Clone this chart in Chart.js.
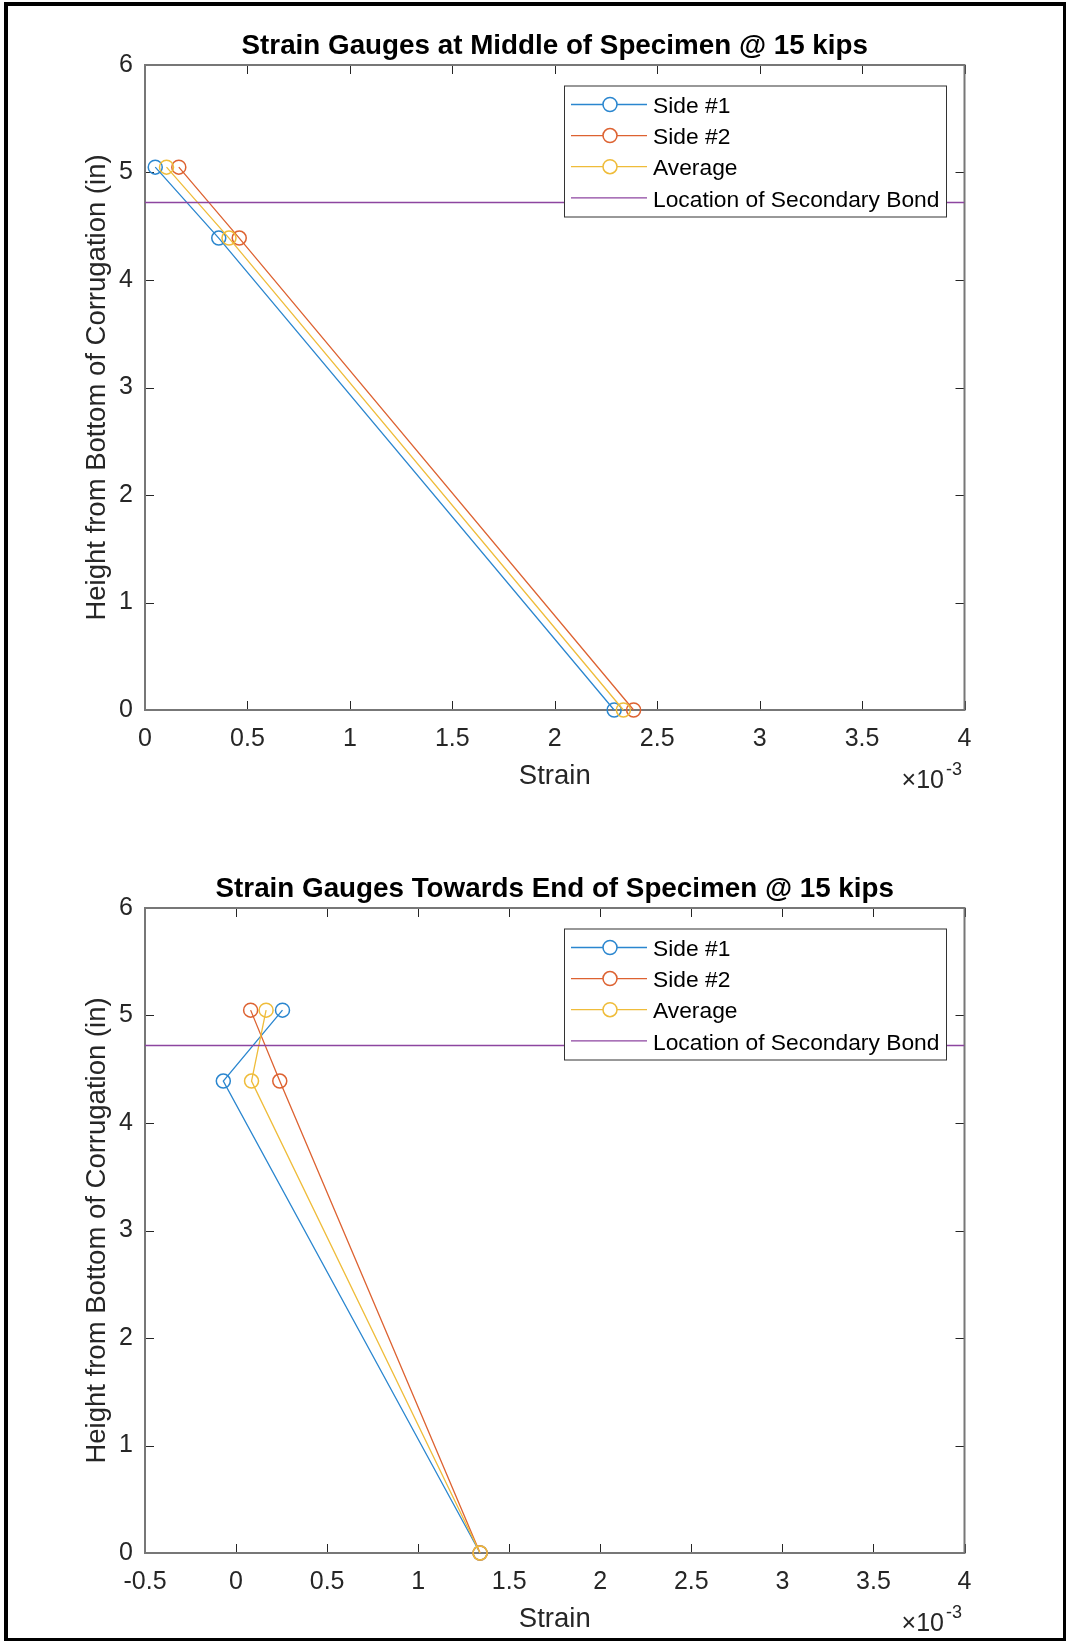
<!DOCTYPE html>
<html>
<head>
<meta charset="utf-8">
<script src="https://cdn.jsdelivr.net/npm/chart.js@4.4.0/dist/chart.umd.min.js"></script>
<style>
  html, body { margin: 0; padding: 0; background: #fff; }
  body { width: 1066px; height: 1641px; position: relative; overflow: hidden; }
  .plot { position: absolute; left: 0; width: 1066px; height: 798px; }
  #frame { position: absolute; left: 4px; top: 2px; width: 1062px; height: 1639px; box-sizing: border-box;
           border: solid #000; border-width: 4px 3px 3px 4px; pointer-events: none; }
</style>
</head>
<body>
<div class="plot" style="top:0"><canvas id="midChart" width="1066" height="798"></canvas></div>
<div class="plot" style="top:843px"><canvas id="endChart" width="1066" height="798"></canvas></div>
<div id="frame"></div>
<script>
// gauge heights (in) and strain readings (x 10^-3)
const gaugeHeights = [5.05, 4.39, 0];
const bondHeight = 4.72;

const midSide1   = [0.05, 0.36, 2.29];
const midSide2   = [0.165, 0.46, 2.385];
const midAverage = [0.105, 0.41, 2.335];

const endSide1   = [0.255, -0.07, 1.34];
const endSide2   = [0.08, 0.24, 1.34];
const endAverage = [0.165, 0.085, 1.34];

const midTicksX = [0, 0.5, 1, 1.5, 2, 2.5, 3, 3.5, 4];
const endTicksX = [-0.5, 0, 0.5, 1, 1.5, 2, 2.5, 3, 3.5, 4];
const ticksY = [0, 1, 2, 3, 4, 5, 6];

const FONT = '"Liberation Sans", Arial, sans-serif';
const INK = '#262626';
const BLUE = '#2a86cf', ORANGE = '#dd6231', YELLOW = '#efbc3a', PURPLE = '#8d45a0';

const decor = {
  id: 'decor',
  beforeDatasetsDraw(chart) {
    const { ctx, chartArea: a, scales: { x, y } } = chart;
    ctx.save();
    ctx.strokeStyle = INK;
    ctx.lineWidth = 1;
    ctx.beginPath();
    x.ticks.forEach(t => {
      const px = Math.round(x.getPixelForValue(t.value)) + 0.5;
      ctx.moveTo(px, a.bottom); ctx.lineTo(px, a.bottom - 9);
      ctx.moveTo(px, a.top); ctx.lineTo(px, a.top + 9);
    });
    y.ticks.forEach(t => {
      const py = Math.round(y.getPixelForValue(t.value)) + 0.5;
      ctx.moveTo(a.left, py); ctx.lineTo(a.left + 9, py);
      ctx.moveTo(a.right, py); ctx.lineTo(a.right - 9, py);
    });
    ctx.stroke();
    ctx.strokeStyle = '#777';
    ctx.lineWidth = 2;
    ctx.strokeRect(a.left, a.top, a.right - a.left, a.bottom - a.top);
    ctx.restore();
  },
  afterDatasetsDraw(chart, args, opts) {
    const { ctx, chartArea: a } = chart;
    ctx.save();

    // title
    ctx.fillStyle = '#000';
    ctx.font = 'bold 27.8px ' + FONT;
    ctx.textAlign = 'center';
    ctx.textBaseline = 'alphabetic';
    ctx.fillText(opts.title, (a.left + a.right) / 2, a.top - 11);

    // x10^-3 multiplier
    ctx.fillStyle = INK;
    ctx.textAlign = 'right';
    ctx.font = '25px ' + FONT;
    ctx.fillText('\u00d710', 944, a.bottom + 78);
    ctx.textAlign = 'left';
    ctx.font = '18px ' + FONT;
    ctx.fillText('-3', 946, a.bottom + 65);

    // legend
    const bx = 564, by = a.top + 20.5, bw = 382, bh = 131;
    ctx.fillStyle = '#fff';
    ctx.fillRect(bx, by, bw, bh);
    ctx.strokeStyle = '#333';
    ctx.lineWidth = 1;
    ctx.strokeRect(bx + 0.5, by + 0.5, bw, bh);
    ctx.font = '22.8px ' + FONT;
    ctx.textBaseline = 'middle';
    chart.data.datasets.forEach((ds, i) => {
      const ry = by + 19 + i * 31.1;
      ctx.strokeStyle = ds.borderColor;
      ctx.lineWidth = 1.3;
      ctx.beginPath();
      ctx.moveTo(571, ry); ctx.lineTo(647, ry);
      ctx.stroke();
      if (ds.pointRadius > 0) {
        ctx.fillStyle = '#fff';
        ctx.beginPath();
        ctx.arc(610, ry, 7, 0, Math.PI * 2);
        ctx.fill();
        ctx.lineWidth = 1.5;
        ctx.stroke();
      }
      ctx.fillStyle = '#000';
      ctx.fillText(ds.label, 653, ry + 2.5);
    });
    ctx.restore();
  }
};

function series(label, xs, color, order) {
  return {
    label: label,
    data: xs.map((v, i) => ({ x: v, y: gaugeHeights[i] })),
    borderColor: color,
    borderWidth: 1.3,
    pointRadius: 7,
    pointBorderWidth: 1.5,
    pointBackgroundColor: 'rgba(0,0,0,0)',
    pointBorderColor: color,
    showLine: true,
    tension: 0,
    clip: false,
    order: order
  };
}

function makeChart(id, title, ticksX, side1, side2, avg) {
  const xMin = ticksX[0], xMax = ticksX[ticksX.length - 1];
  new Chart(document.getElementById(id), {
    type: 'line',
    data: {
      datasets: [
        series('Side #1', side1, BLUE, 4),
        series('Side #2', side2, ORANGE, 3),
        series('Average', avg, YELLOW, 2),
        {
          label: 'Location of Secondary Bond',
          data: [{ x: xMin, y: bondHeight }, { x: xMax, y: bondHeight }],
          borderColor: PURPLE,
          borderWidth: 1.5,
          pointRadius: 0,
          order: 1
        }
      ]
    },
    options: {
      responsive: false,
      animation: false,
      events: [],
      layout: { padding: { top: 65, right: 101.5, bottom: 0, left: 0 } },
      plugins: {
        legend: { display: false },
        tooltip: { enabled: false },
        decor: { title: title }
      },
      scales: {
        x: {
          type: 'linear',
          min: xMin,
          max: xMax,
          afterBuildTicks: s => { s.ticks = ticksX.map(v => ({ value: v })); },
          afterFit: s => { s.height = 88; s.paddingLeft = 0; s.paddingRight = 0; },
          grid: { display: false, drawTicks: false },
          border: { display: false },
          ticks: { autoSkip: false, maxRotation: 0, padding: 14, color: INK,
                   font: { family: FONT, size: 25 }, callback: v => String(v) },
          title: { display: true, text: 'Strain', color: INK,
                   font: { family: FONT, size: 27.5 }, padding: { top: 0, bottom: 5 } }
        },
        y: {
          type: 'linear',
          min: 0,
          max: 6,
          afterBuildTicks: s => { s.ticks = ticksY.map(v => ({ value: v })); },
          afterFit: s => { s.width = 145; s.paddingTop = 0; s.paddingBottom = 0; },
          grid: { display: false, drawTicks: false },
          border: { display: false },
          ticks: { padding: 12, color: INK, font: { family: FONT, size: 25 }, callback: v => String(v) },
          title: { display: true, text: 'Height from Bottom of Corrugation (in)', color: INK,
                   font: { family: FONT, size: 27.5 }, padding: { top: 80.5, bottom: 0 } }
        }
      }
    },
    plugins: [decor]
  });
}

makeChart('midChart', 'Strain Gauges at Middle of Specimen @ 15 kips', midTicksX, midSide1, midSide2, midAverage);
makeChart('endChart', 'Strain Gauges Towards End of Specimen @ 15 kips', endTicksX, endSide1, endSide2, endAverage);
</script>
</body>
</html>
